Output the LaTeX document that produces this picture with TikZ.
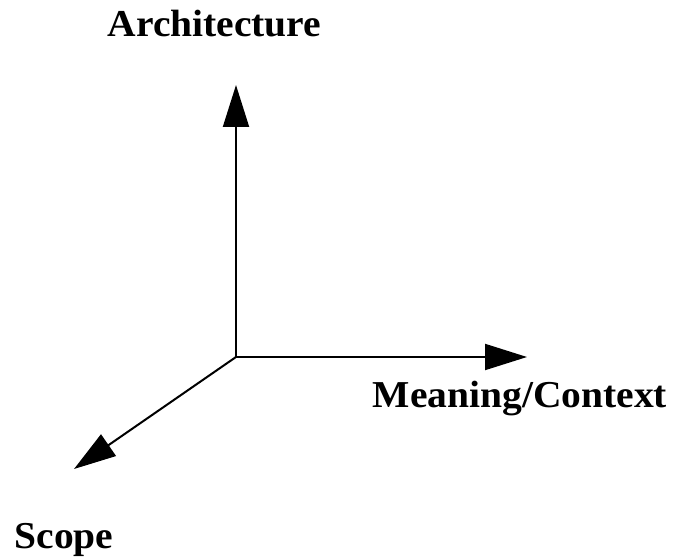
\documentclass[tikz,border=0pt]{standalone}
\usepackage{fontspec}
\setmainfont{Liberation Serif}[FakeStretch=1.04]
\usetikzlibrary{arrows.meta}

\tikzset{
  axis/.style={line width=2pt, -{Triangle[length=42pt,width=26pt]}},
  axislabel/.style={inner sep=0pt, anchor=base, font=\fontsize{38}{44}\selectfont\bfseries}
}

\begin{document}
\begin{tikzpicture}[x=1pt,y=1pt]
        % Canvas
        \useasboundingbox (0,0) rectangle (678,558);
        
        % Axis end points
        \coordinate (origin) at (236,201);
        \coordinate (archtip) at (236,473);
        \coordinate (meantip) at (527,201);
        \coordinate (scopetip) at (74,89);
        
        % Axes
        \draw[axis] (origin) -- (archtip);
        \draw[axis] (origin) -- (meantip);
        \draw[axis] (origin) -- (scopetip);
        
        % Labels
        \node[axislabel] (arch) at (214.5,521) {Architecture};
        \node[axislabel] (mean) at (520,151) {Meaning/Context};
        \node[axislabel] (scope) at (64,10) {Scope};
    \end{tikzpicture}
\end{document}
